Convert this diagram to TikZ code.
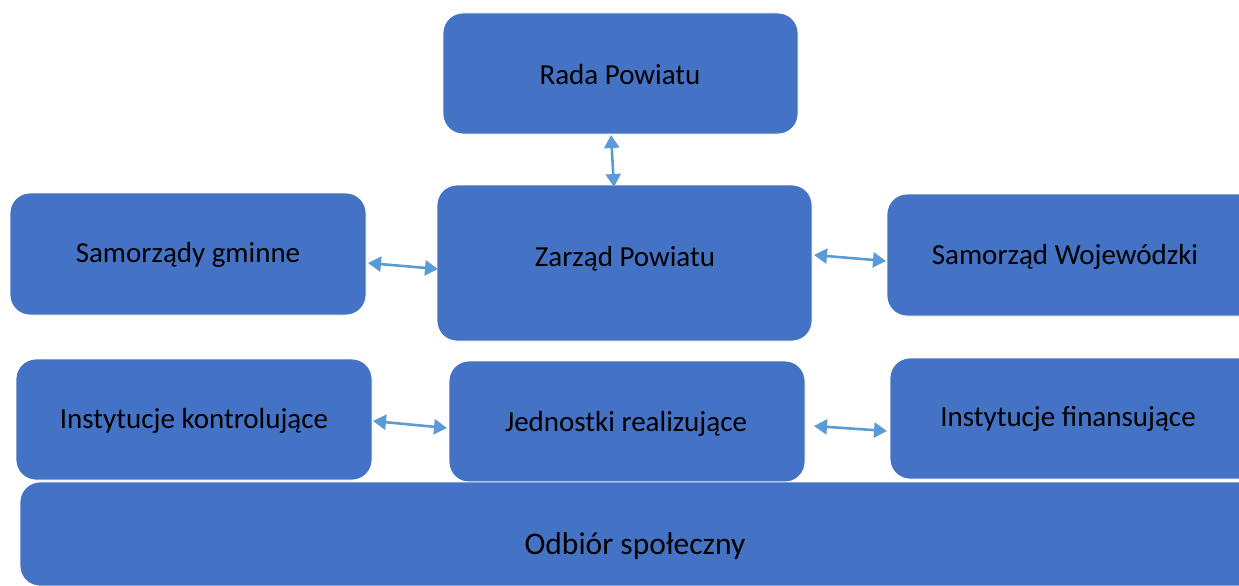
\documentclass[tikz,border=0pt]{standalone}
\usepackage{fontspec}
\setmainfont{Carlito}
\usetikzlibrary{arrows.meta}
\definecolor{boxblue}{HTML}{4472C4}
\definecolor{arrowblue}{HTML}{5B9BD5}
\tikzset{
  box/.style={fill=boxblue, draw=white, line width=0.8pt, rounded corners=20pt},
  lbl/.style={font=\fontsize{29}{33}\selectfont, text=black, inner sep=0pt},
  biglbl/.style={font=\fontsize{31.5}{36}\selectfont, text=black, inner sep=0pt},
  link/.style={draw=arrowblue, line width=2.6pt, {Triangle[length=13pt,width=15pt]}-{Triangle[length=13pt,width=15pt]}}
}
\begin{document}
\begin{tikzpicture}[x=1pt,y=-1pt]
\useasboundingbox (0,0) rectangle (1239,586);
\begin{scope}
\clip (0,0) rectangle (1239,586);
\draw[box] (443,13) rectangle (798,134);
\draw[box] (10,193) rectangle (366,315);
\draw[box] (437,185) rectangle (812,341);
\draw[box] (887,194) rectangle (1260,316);
\draw[box] (16,359) rectangle (372,480);
\draw[box] (449,361) rectangle (805,482);
\draw[box] (890,358) rectangle (1260,479);
\draw[box] (20,482) rectangle (1260,586);
\end{scope}
\node[lbl] (rada) at (620,75) {Rada Powiatu};
\node[lbl] (gm) at (188,255) {Samorządy gminne};
\node[lbl] (zarz) at (625,259) {Zarząd Powiatu};
\node[lbl] (woj) at (1065,257) {Samorząd Wojewódzki};
\node[lbl] (kon) at (194,421) {Instytucje kontrolujące};
\node[lbl] (jed) at (626,424) {Jednostki realizujące};
\node[lbl] (fin) at (1068,419) {Instytucje finansujące};
\node[biglbl] (odb) at (635,546) {Odbiór społeczny};
\coordinate (a1) at (611,135);
\coordinate (a2) at (614,187);
\coordinate (b1) at (368,263);
\coordinate (b2) at (438,269);
\coordinate (c1) at (814,255);
\coordinate (c2) at (886,261);
\coordinate (d1) at (373,421);
\coordinate (d2) at (447,428);
\coordinate (e1) at (814,426);
\coordinate (e2) at (887,431);
\draw[link] (a1) -- (a2);
\draw[link] (b1) -- (b2);
\draw[link] (c1) -- (c2);
\draw[link] (d1) -- (d2);
\draw[link] (e1) -- (e2);
\end{tikzpicture}
\end{document}
